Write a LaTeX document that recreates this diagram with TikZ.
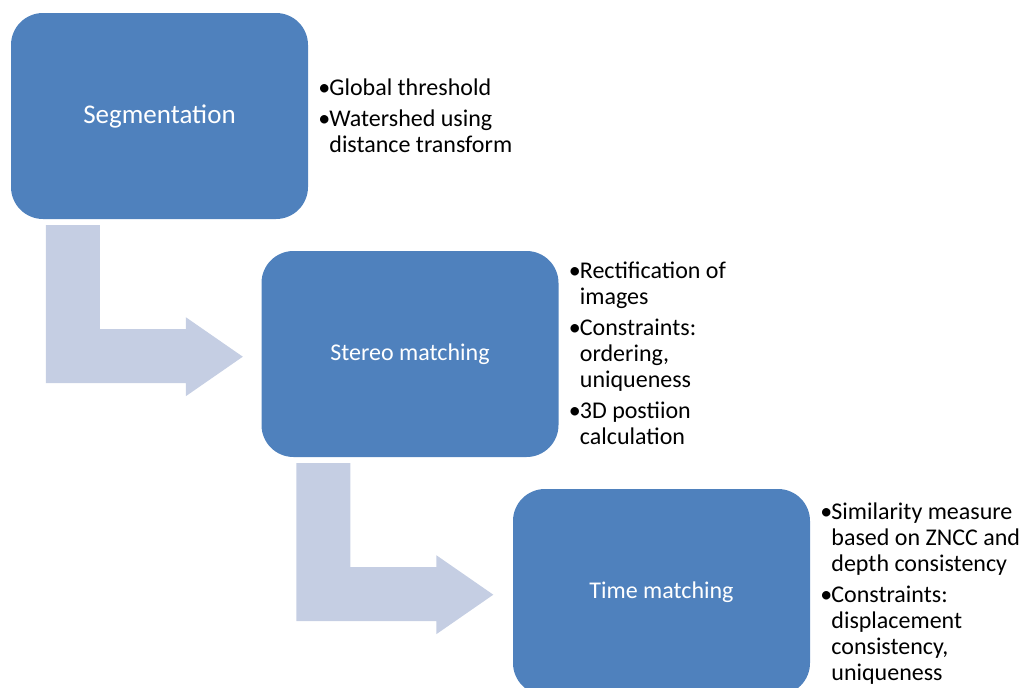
\documentclass[tikz,border=0pt]{standalone}
\usepackage{fontspec}
\setmainfont{Carlito}
\usetikzlibrary{calc}
\definecolor{boxblue}{HTML}{4F81BD}
\definecolor{arrowc}{HTML}{C5CEE3}
\tikzset{
  stagebox/.style={fill=boxblue, draw=none, rounded corners=32pt,
    minimum width=297pt, minimum height=206pt, inner sep=0pt,
    text=white, font=\fontsize{24}{26}\selectfont},
  blist/.style={anchor=west, inner sep=0pt, text=black,
    font=\fontsize{24}{26}\selectfont},
  bentarrow/.style={fill=arrowc, draw=none}
}
\newcommand\bentarr[2]{%
  \path[bentarrow] ($(#1.south west)+(35,6)$) -- ++(54,0) -- ++(0,104)
    -- ++(86,0) -- ++(0,-12) -- ++(57,39.5) -- ++(-57,39.5)
    -- ++(0,-13) -- ++(-140,0) -- cycle;}
\begin{document}
\begin{tikzpicture}[x=1pt,y=-1pt]
\useasboundingbox (0,0) rectangle (1023,688);
\clip (0,0) rectangle (1023,688);

\node[stagebox, font=\fontsize{27}{29}\selectfont] (seg) at (159.5,116) {Segmentation};
\node[stagebox] (stereo) at (410,354) {Stereo matching};
\node[stagebox] (time) at (661.5,592) {Time matching};

\bentarr{seg}{stereo}
\bentarr{stereo}{time}

\node[blist] (l1) at ($(seg.east)+(10,2.5)$) {%
\begin{tabular}{@{}p{11pt}@{}l@{}}
\textbullet & Global threshold\\[5pt]
\textbullet & Watershed using\\
 & distance transform
\end{tabular}};

\node[blist] (l2) at ($(stereo.east)+(10,2.5)$) {%
\begin{tabular}{@{}p{11pt}@{}l@{}}
\textbullet & Rectification of\\
 & images\\[5pt]
\textbullet & Constraints:\\
 & ordering,\\
 & uniqueness\\[5pt]
\textbullet & 3D postiion\\
 & calculation
\end{tabular}};

\node[blist] (l3) at ($(time.east)+(10,2.5)$) {%
\begin{tabular}{@{}p{11pt}@{}l@{}}
\textbullet & Similarity measure\\
 & based on ZNCC and\\
 & depth consistency\\[5pt]
\textbullet & Constraints:\\
 & displacement\\
 & consistency,\\
 & uniqueness
\end{tabular}};
\end{tikzpicture}
\end{document}
